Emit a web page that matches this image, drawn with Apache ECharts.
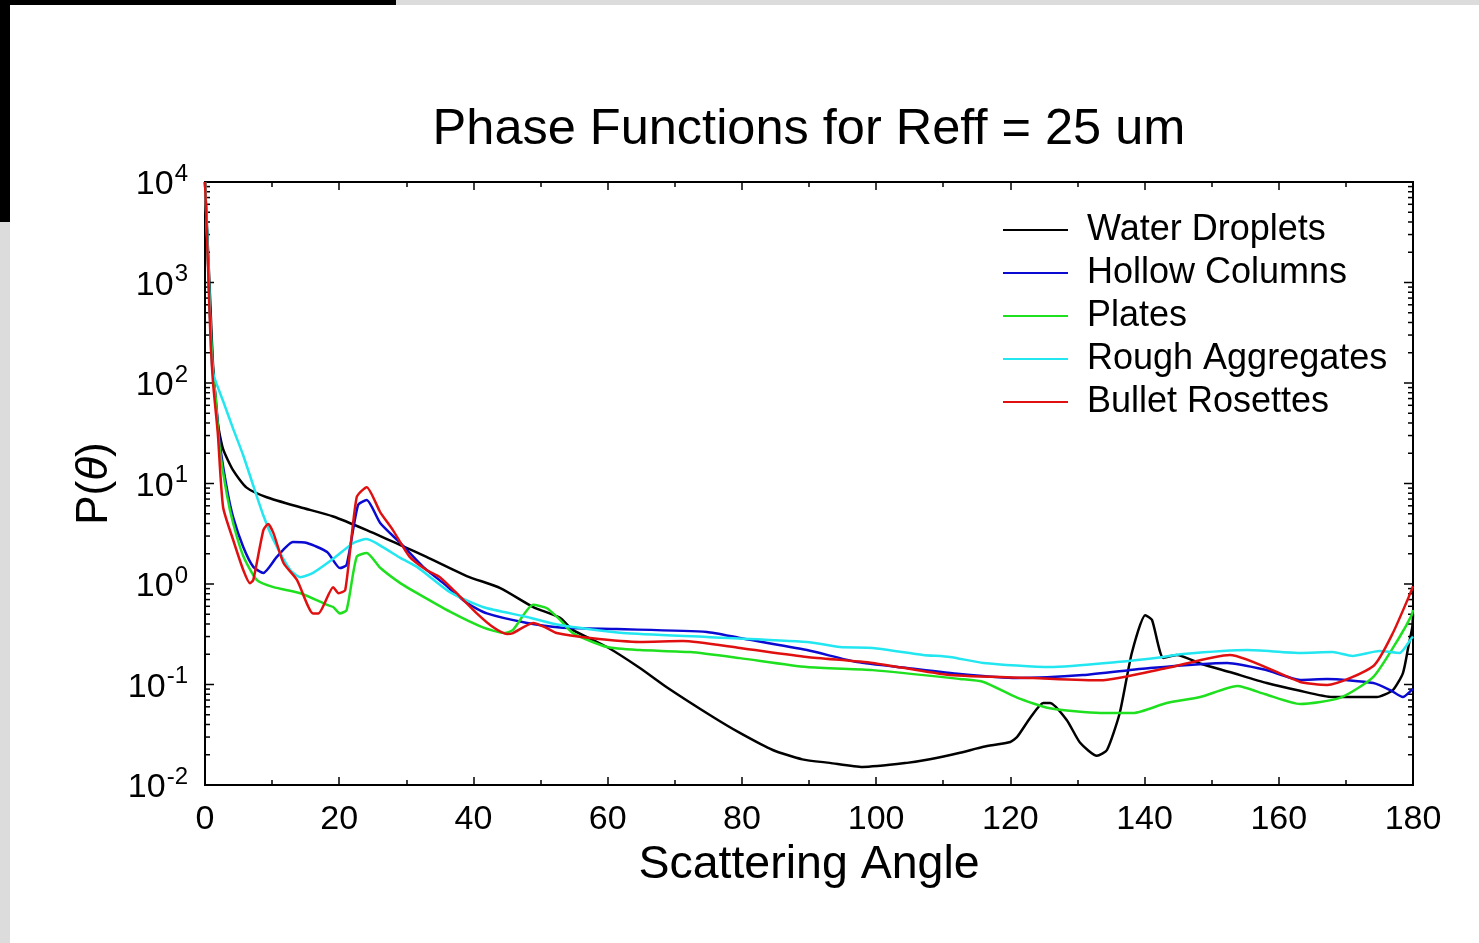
<!DOCTYPE html>
<html>
<head>
<meta charset="utf-8">
<title>Phase Functions for Reff = 25 um</title>
<script src="https://cdn.jsdelivr.net/npm/echarts@6/dist/echarts.min.js"></script>
<style>
  html, body { margin: 0; padding: 0; background: #fff; }
  #main { width: 1479px; height: 943px; }
</style>
</head>
<body>
<div id="main"></div>
<script>
// [scattering angle (deg), P(theta)]
const waterDroplets = [
  [0, 10000], [0.4, 2500], [0.8, 600], [1.2, 150], [1.9, 40], [2.7, 22], [4.2, 13.5], [6.2, 9.1],
  [9.2, 7.3], [14.2, 5.8], [19.1, 4.7], [24.1, 3.44], [29.1, 2.44], [33, 1.86], [39, 1.2],
  [44, 0.91], [48.9, 0.59], [52.9, 0.46], [54.8, 0.35], [59.9, 0.236], [64.8, 0.146],
  [68.8, 0.094], [75.7, 0.0475], [79.7, 0.033], [84.6, 0.0223], [89, 0.018], [93.1, 0.0166],
  [98, 0.0151], [104.6, 0.0166], [108, 0.018], [112.5, 0.0209], [116, 0.024], [120, 0.0268],
  [121, 0.03], [123, 0.047], [124.9, 0.0655], [125.9, 0.0655], [128.4, 0.0444], [130.4, 0.0263],
  [132.9, 0.0195], [134.4, 0.0223], [136.3, 0.052], [138.1, 0.206], [140.1, 0.49], [141.1, 0.44],
  [142.8, 0.184], [144.8, 0.197], [148.5, 0.16], [152.7, 0.133], [158.2, 0.1035], [163, 0.087],
  [168, 0.075], [174.6, 0.075], [177, 0.088], [178.5, 0.13], [179.3, 0.236], [179.9, 0.373], [180, 0.5]
];
const hollowColumns = [
  [0, 10000], [0.4, 2000], [0.8, 400], [1.2, 130], [1.6, 70], [2.2, 25], [3.3, 8.6], [4.2, 4.6],
  [5.7, 2.33], [7.2, 1.48], [8.7, 1.29], [10.7, 1.86], [13.1, 2.62], [15.2, 2.56], [18.2, 2.08],
  [20.1, 1.44], [21.1, 1.55], [22.8, 6.1], [24.1, 6.85], [26.1, 4.05], [29.1, 2.56], [32.5, 1.48],
  [35.5, 1.02], [39, 0.65], [42, 0.51], [48, 0.41], [52.9, 0.37], [61.4, 0.356], [74.8, 0.333],
  [79.7, 0.29], [89.7, 0.22], [97.2, 0.167], [104.6, 0.146], [112.5, 0.127], [121, 0.116],
  [130.8, 0.124], [140.8, 0.146], [152.3, 0.164], [158, 0.14], [163.2, 0.111], [167.2, 0.1135],
  [174.1, 0.1035], [176.6, 0.088], [178.5, 0.075], [179.8, 0.088], [180, 0.09]
];
const plates = [
  [0, 10000], [0.4, 2000], [0.8, 400], [1.2, 130], [1.6, 70], [2.2, 22], [3.3, 7.5], [4.2, 4.0],
  [5.7, 1.9], [7.7, 1.1], [10.2, 0.93], [14.2, 0.81], [18.2, 0.62], [19.1, 0.59], [20.1, 0.51],
  [21.1, 0.55], [22.6, 1.86], [24.1, 2.03], [26.1, 1.45], [29.1, 1.02], [31.6, 0.81], [36.5, 0.53],
  [41.4, 0.37], [44.7, 0.325], [45.9, 0.35], [48.9, 0.62], [50.9, 0.577], [52.9, 0.44],
  [54.8, 0.325], [59.9, 0.236], [64.8, 0.22], [72.3, 0.21], [79.7, 0.183], [89.7, 0.149],
  [99.5, 0.139], [112.5, 0.1135], [116, 0.106], [121, 0.074], [125.9, 0.058], [133.4, 0.052],
  [138.3, 0.052], [143.3, 0.0655], [148.3, 0.075], [153.8, 0.0966], [158, 0.08], [163.2, 0.064],
  [169.1, 0.0735], [174.1, 0.119], [178, 0.297], [179.8, 0.49], [180, 0.55]
];
const roughAggregates = [
  [0, 10000], [0.5, 1500], [0.9, 220], [1.2, 125], [2.7, 66], [4.2, 35], [5.7, 19], [7.2, 9.5],
  [8.7, 4.8], [10.2, 2.74], [12.7, 1.38], [14.2, 1.17], [16.1, 1.29], [19.1, 1.78], [22.1, 2.56], [24.1, 2.8],
  [26.5, 2.33], [29.1, 1.82], [31.6, 1.48], [36.5, 0.83], [41.4, 0.59], [48, 0.47], [52.9, 0.39],
  [62.3, 0.325], [74.8, 0.297], [89.7, 0.265], [94.6, 0.236], [99.5, 0.231], [107, 0.197],
  [111, 0.188], [116, 0.164], [125.9, 0.149], [135.9, 0.167], [142.8, 0.188], [145.3, 0.2],
  [155.3, 0.22], [163.2, 0.206], [168, 0.21], [171, 0.192], [175, 0.215], [178, 0.206],
  [179.8, 0.29], [180, 0.3]
];
const bulletRosettes = [
  [0, 10000], [0.4, 1800], [0.8, 300], [1.2, 100], [1.9, 32], [2.7, 5.8], [4.2, 2.74], [5.7, 1.38],
  [6.7, 1.02], [7.2, 1.1], [8.7, 3.44], [9.4, 3.95], [10.2, 3.21], [11.7, 1.62], [13.7, 1.1],
  [16.1, 0.51], [16.9, 0.51], [19.1, 0.93], [19.9, 0.81], [20.9, 0.87], [22.6, 7.3], [24.1, 9.2],
  [26.1, 5.2], [28, 3.44], [30.5, 1.86], [33, 1.38], [35, 1.17], [37.5, 0.81], [40.5, 0.51],
  [42.9, 0.373], [45, 0.318], [45.9, 0.325], [48.9, 0.41], [50.9, 0.365], [52.4, 0.325],
  [57.4, 0.29], [64.8, 0.265], [71.2, 0.271], [79.7, 0.231], [89.7, 0.188], [99.5, 0.164],
  [111, 0.124], [123.4, 0.116], [133.4, 0.11], [143.3, 0.146], [152.7, 0.197], [163.2, 0.106],
  [167.2, 0.099], [174.1, 0.153], [177, 0.325], [179.8, 0.87], [180, 0.95]
];

const seriesNames = ['Water Droplets', 'Hollow Columns', 'Plates', 'Rough Aggregates', 'Bullet Rosettes'];
const seriesColors = ['#000000', '#0a0ad2', '#1ee01e', '#22e6f0', '#e01010'];
const seriesData = [waterDroplets, hollowColumns, plates, roughAggregates, bulletRosettes];

// log ticks on the y axis: decades plus 2..9 in between
const yTickValues = [];
for (let e = -2; e <= 4; e++) {
  for (let m = 1; m <= 9; m++) {
    if (e === 4 && m > 1) break;
    yTickValues.push(m * Math.pow(10, e));
  }
}

const font = 'Liberation Sans, Arial, Helvetica, sans-serif';
const myChart = echarts.init(document.getElementById('main'));

const lineSeries = seriesData.map((d, i) => ({
  name: seriesNames[i],
  type: 'line',
  data: d,
  symbol: 'none',
  showSymbol: false,
  smooth: 0.2,
  lineStyle: { color: seriesColors[i], width: 2.5 },
  itemStyle: { color: seriesColors[i] },
  z: 3
}));

const option = {
  backgroundColor: '#fff',
  animation: false,
  title: {
    text: 'Phase Functions for Reff = 25 um',
    left: 804,
    textAlign: 'center',
    top: 100,
    textStyle: { fontFamily: font, fontSize: 50.5, fontWeight: 'normal', color: '#000' }
  },
  legend: {
    data: seriesNames,
    orient: 'vertical',
    left: 998,
    top: 205,
    icon: 'rect',
    itemWidth: 65,
    itemHeight: 2,
    itemGap: 3,
    textStyle: { fontFamily: font, fontSize: 36, color: '#000', lineHeight: 40, padding: [0, 0, 0, 14] }
  },
  grid: {
    left: 205, top: 182, width: 1208, height: 603,
    show: true, borderColor: '#000', borderWidth: 2, backgroundColor: 'transparent'
  },
  xAxis: [{
    type: 'value',
    min: 0, max: 180, interval: 20,
    name: 'Scattering Angle',
    nameLocation: 'middle',
    nameGap: 53,
    nameTextStyle: { fontFamily: font, fontSize: 46.5, color: '#000' },
    axisLine: { show: false },
    axisTick: { show: true, inside: true, length: 8, lineStyle: { color: '#000', width: 1.5 } },
    minorTick: { show: true, splitNumber: 2, length: 5, lineStyle: { color: '#000', width: 1.5 } },
    axisLabel: { fontFamily: font, fontSize: 34, color: '#000', margin: 18 },
    splitLine: { show: false }
  }, {
    type: 'value',
    position: 'top',
    min: 0, max: 180, interval: 20,
    axisLine: { show: false },
    axisTick: { show: true, inside: true, length: 8, lineStyle: { color: '#000', width: 1.5 } },
    minorTick: { show: true, splitNumber: 2, length: 5, lineStyle: { color: '#000', width: 1.5 } },
    axisLabel: { show: false },
    splitLine: { show: false }
  }],
  yAxis: {
    type: 'log',
    logBase: 10,
    min: 0.01, max: 10000,
    name: '{p|P(}{t|θ}{p|)}',
    nameLocation: 'middle',
    nameRotate: 90,
    nameGap: 82,
    nameTextStyle: {
      rich: {
        p: { fontFamily: font, fontSize: 44, color: '#000' },
        t: { fontFamily: font, fontSize: 44, color: '#000', fontStyle: 'italic' }
      }
    },
    axisLine: { show: false },
    axisTick: { show: false },
    splitLine: { show: false },
    axisLabel: {
      margin: 17,
      formatter: v => '{b|10}{e|' + Math.round(Math.log10(v)) + '}',
      rich: {
        b: { fontFamily: font, fontSize: 34, color: '#000', verticalAlign: 'bottom' },
        e: { fontFamily: font, fontSize: 24, color: '#000', verticalAlign: 'top', padding: [0, 0, 16, 1] }
      }
    }
  },
  series: lineSeries.concat([{
    type: 'custom',
    name: 'yticks',
    silent: true,
    data: yTickValues.map(v => [0, v]),
    encode: { x: 0, y: 1 },
    renderItem: (params, api) => {
      const v = api.value(1);
      const lg = Math.log10(v);
      const major = Math.abs(lg - Math.round(lg)) < 1e-9;
      const len = major ? 9 : 5;
      const p = api.coord([0, v]);
      const q = api.coord([180, v]);
      const st = { stroke: '#000', lineWidth: 1.5 };
      return {
        type: 'group',
        children: [
          { type: 'line', shape: { x1: p[0], y1: p[1], x2: p[0] + len, y2: p[1] }, style: st },
          { type: 'line', shape: { x1: q[0], y1: q[1], x2: q[0] - len, y2: q[1] }, style: st }
        ]
      };
    },
    z: 2
  }]),
  graphic: [
    { type: 'rect', shape: { x: 0, y: 0, width: 396, height: 5 }, style: { fill: '#000' } },
    { type: 'rect', shape: { x: 396, y: 0, width: 1083, height: 5 }, style: { fill: '#dcdcdc' } },
    { type: 'rect', shape: { x: 0, y: 0, width: 10, height: 222 }, style: { fill: '#000' } },
    { type: 'rect', shape: { x: 0, y: 222, width: 10, height: 721 }, style: { fill: '#dcdcdc' } }
  ]
};
myChart.setOption(option);
</script>
</body>
</html>
